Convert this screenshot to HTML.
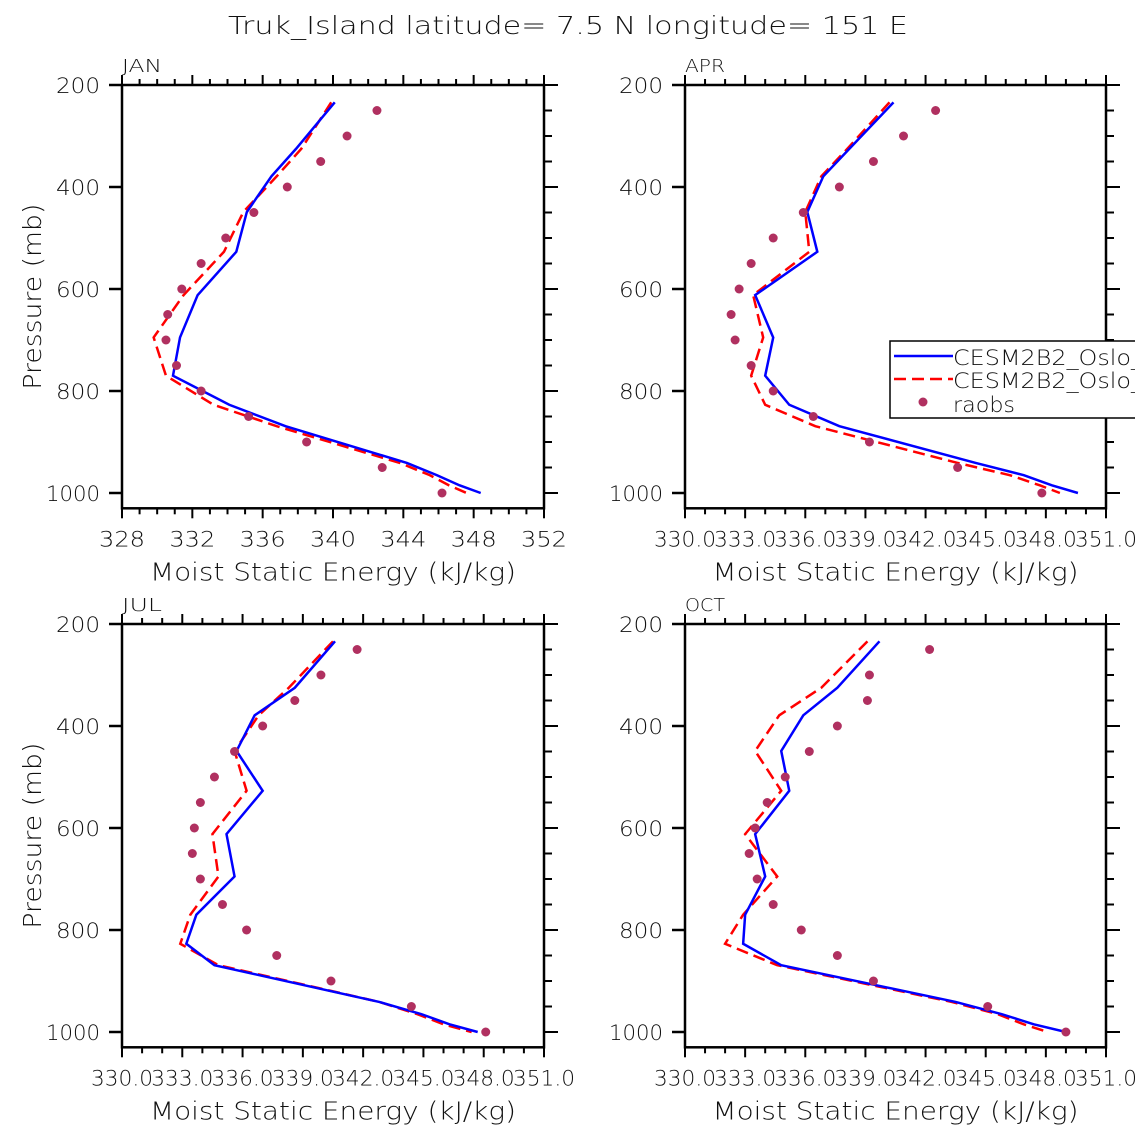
<!DOCTYPE html>
<html><head><meta charset="utf-8">
<style>
html,body{margin:0;padding:0;background:#fff;width:1135px;height:1135px;overflow:hidden}
svg{display:block;font-family:"DejaVu Sans","Liberation Sans",sans-serif}
</style></head>
<body>
<svg id="chart" width="1135" height="1135" viewBox="0 0 1135 1135" xmlns="http://www.w3.org/2000/svg">
<text x="228" y="34" font-size="25" textLength="680" lengthAdjust="spacingAndGlyphs" fill="#111" font-weight="300">Truk_Island  latitude= 7.5 N longitude= 151 E</text>
</svg>
<script>
const levels = [234, 325, 379, 449, 527, 612, 695, 770, 827, 869, 941, 965, 985, 1000];
const obsLevels = [250,300,350,400,450,500,550,600,650,700,750,800,850,900,950,1000];
const monthNames = ["JAN","APR","JUL","OCT"];
const janBlue = [340.1,337.9,336.5,335.1,334.5,332.3,331.3,330.9,334.1,337.3,344.2,345.9,347.2,348.4];
const janRed  = [339.9,338.2,336.8,334.9,333.8,331.5,329.8,330.5,333.2,336.8,343.8,345.5,346.6,347.6];
const janObs  = [342.5,340.8,339.3,337.4,335.5,333.9,332.5,331.4,330.6,330.5,331.1,332.5,335.2,338.5,342.8,346.2];
const aprBlue = [340.4,338.2,336.9,336.1,336.6,333.5,334.4,334.0,335.2,337.7,344.5,346.9,348.3,349.6];
const aprRed  = [340.2,338.1,336.8,336.0,336.2,333.4,333.9,333.3,334.0,336.5,343.6,346.2,347.7,348.7];
const aprObs  = [342.5,340.9,339.4,337.7,335.9,334.4,333.3,332.7,332.3,332.5,333.3,334.4,336.4,339.2,343.6,347.8];
const julBlue = [340.6,338.6,336.6,335.7,337.0,335.2,335.6,333.7,333.2,334.6,342.8,344.9,346.3,347.7];
const julRed  = [340.5,338.3,336.8,335.6,336.2,334.5,334.8,333.4,332.9,334.8,342.8,344.7,346.0,347.4];
const julObs  = [341.7,339.9,338.6,337.0,335.6,334.6,333.9,333.6,333.5,333.9,335.0,336.2,337.7,340.4,344.4,348.1];
const octBlue = [339.7,337.6,335.9,334.8,335.2,333.5,334.0,333.0,332.9,334.8,343.5,345.8,347.4,349.0];
const octRed  = [339.1,336.8,334.7,333.5,334.8,333.0,334.6,332.9,332.0,334.6,343.3,345.6,346.9,348.1];
const octObs  = [342.2,339.2,339.1,337.6,336.2,335.0,334.1,333.5,333.2,333.6,334.4,335.8,337.6,339.4,345.1,349.0];
const janTicks = ["328","332","336","340","344","348","352"];
const otherTicks = ["330.0","333.0","336.0","339.0","342.0","345.0","348.0","351.0"];
const yTicks = ["200","400","600","800","1000"];

const NS="http://www.w3.org/2000/svg";
const svg=document.getElementById('chart');
function mk(tag,attrs,parent){const e=document.createElementNS(NS,tag);for(const k in attrs)e.setAttribute(k,attrs[k]);(parent||svg).appendChild(e);return e;}

const panels=[
 {name:"jan",x0:122,x1:544,y0:85,xmin:328,xmax:352,major:4,tl:janTicks,blue:janBlue,red:janRed,obs:janObs},
 {name:"apr",x0:685,x1:1106,y0:85,xmin:330,xmax:351,major:3,tl:otherTicks,blue:aprBlue,red:aprRed,obs:aprObs},
 {name:"jul",x0:122,x1:544,y0:624,xmin:330,xmax:351,major:3,tl:otherTicks,blue:julBlue,red:julRed,obs:julObs},
 {name:"oct",x0:685,x1:1106,y0:624,xmin:330,xmax:351,major:3,tl:otherTicks,blue:octBlue,red:octRed,obs:octObs}
];
const PPM=0.51, PMAX=1030;
panels.forEach((P,i)=>{
  const g=mk('g',{});
  
  
  const xs=v=>P.x0+(v-P.xmin)/(P.xmax-P.xmin)*(P.x1-P.x0);
  const ys=p=>P.y0+(p-200)*PPM;
  const yb=ys(PMAX);
  const clipId='clip'+i;
  const cp=mk('clipPath',{id:clipId},g);mk('rect',{x:P.x0,y:P.y0,width:P.x1-P.x0,height:yb-P.y0},cp);
  for(let v=P.xmin;v<=P.xmax;v++){
    const maj=(v-P.xmin)%P.major===0;const x=xs(v);
    mk('line',{x1:x,x2:x,y1:yb,y2:yb+(maj?10:6),stroke:'#000','stroke-width':2},g);
    mk('line',{x1:x,x2:x,y1:P.y0,y2:P.y0-(maj?10:6),stroke:'#000','stroke-width':2},g);
  }
  for(let p=200;p<=1000;p+=50){
    const maj=p%200===0;const y=ys(p);
    mk('line',{x1:P.x0,x2:P.x0-(maj?13:0),y1:y,y2:y,stroke:'#000','stroke-width':2.5},g);
    mk('line',{x1:P.x1,x2:P.x1+(maj?14:8),y1:y,y2:y,stroke:'#000','stroke-width':2},g);
  }
  mk('rect',{x:P.x0,y:P.y0,width:P.x1-P.x0,height:yb-P.y0,fill:'none',stroke:'#000','stroke-width':2.5},g);
  P.tl.forEach((t,k)=>{
    const w=t.length>3?62:46;
    const tx=mk('text',{x:xs(P.xmin+k*P.major)-w/2,y:yb+38,'font-size':21,textLength:w,lengthAdjust:'spacingAndGlyphs',fill:'#111','font-weight':300},g);
    
    
    tx.textContent=t;
  });
  yTicks.forEach(t=>{
    const w=t.length>3?54:44;
    const tx=mk('text',{x:P.x0-22-w,y:ys(+t)+8,'font-size':21,textLength:w,lengthAdjust:'spacingAndGlyphs',fill:'#111','font-weight':300},g);
    
    
    tx.textContent=t;
  });
  const mt=mk('text',{x:P.x0,y:P.y0-13,'font-size':18,textLength:40,lengthAdjust:'spacingAndGlyphs',fill:'#111','font-weight':300},g);
  
  
  mt.textContent=monthNames[i];
  const xc=(P.x0+P.x1)/2;
  const xl=mk('text',{x:xc-183,y:yb+72,'font-size':25,textLength:366,lengthAdjust:'spacingAndGlyphs',fill:'#111','font-weight':300},g);
  
  
  xl.textContent='Moist Static Energy (kJ/kg)';
  if(i%2===0){
    const cy=(P.y0+yb)/2;
    const yl=mk('text',{x:32-93,y:cy,'font-size':25,textLength:186,lengthAdjust:'spacingAndGlyphs',fill:'#111','font-weight':300,transform:'rotate(-90 32 '+cy+') translate(0 0)'},g);
    yl.setAttribute('x',32-93);
    yl.setAttribute('y',cy+9);
    yl.setAttribute('transform','rotate(-90 32 '+cy+')');
    
    
    yl.textContent='Pressure (mb)';
  }
  const dg=mk('g',{'clip-path':'url(#'+clipId+')'},g);
  const rp=mk('polyline',{points:levels.map((p,k)=>xs(P.red[k])+','+ys(p)).join(' '),fill:'none',stroke:'#f00','stroke-width':2.5,'stroke-dasharray':'12,6'},dg);
  
  
  const bp=mk('polyline',{points:levels.map((p,k)=>xs(P.blue[k])+','+ys(p)).join(' '),fill:'none',stroke:'#00f','stroke-width':2.5},dg);
  
  
  obsLevels.forEach((p,k)=>{
    const c=mk('circle',{cx:xs(P.obs[k]),cy:ys(p),r:4.5,fill:'#b03060'},g);
    
    
  });
});
const lg=mk('g',{});


mk('rect',{x:890,y:341,width:260,height:77,fill:'#fff',stroke:'#000','stroke-width':1.5},lg);
mk('line',{x1:894,x2:953,y1:356,y2:356,stroke:'#00f','stroke-width':2.5},lg);
mk('line',{x1:894,x2:953,y1:379,y2:379,stroke:'#f00','stroke-width':2.5,'stroke-dasharray':'12,6'},lg);
mk('circle',{cx:923,cy:402,r:4.5,fill:'#b03060'},lg);
[["CESM2B2_Oslo_",364,'legend-entry-blue',190],["CESM2B2_Oslo_",387,'legend-entry-red',190],["raobs",411,'legend-entry-raobs',62]].forEach(a=>{
  const t=mk('text',{x:953,y:a[1]+1,'font-size':21,textLength:a[3],lengthAdjust:'spacingAndGlyphs',fill:'#111','font-weight':300},lg);
  
  
  t.textContent=a[0];
});
</script>
</body></html>
